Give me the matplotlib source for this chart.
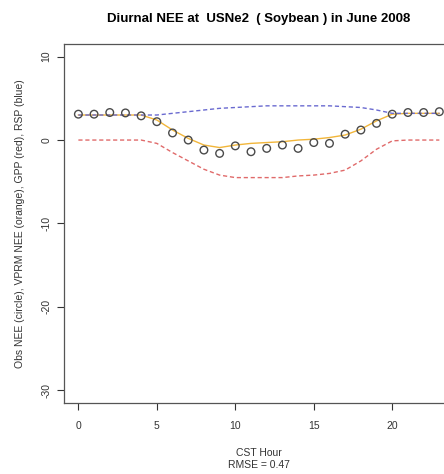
import numpy as np
import matplotlib
matplotlib.use("Agg")
import matplotlib.pyplot as plt

plt.rcParams['font.family'] = ['Liberation Sans', 'DejaVu Sans']
plt.rcParams['axes.unicode_minus'] = False

# hourly values
hours = np.arange(24)
obs_nee = [3.1, 3.1, 3.3, 3.25, 2.9, 2.2, 0.85, 0.0, -1.2, -1.6, -0.7, -1.4,
           -1.0, -0.6, -1.0, -0.3, -0.4, 0.7, 1.2, 2.0, 3.1, 3.3, 3.3, 3.4]
vprm_nee = [3.0, 3.0, 3.0, 3.0, 3.0, 2.4, 1.2, 0.2, -0.6, -0.9, -0.6, -0.4,
            -0.3, -0.2, 0.0, 0.1, 0.3, 0.6, 1.3, 2.3, 3.1, 3.2, 3.2, 3.2]
gpp = [0, 0, 0, 0, 0, -0.4, -1.5, -2.5, -3.5, -4.2, -4.5, -4.5,
       -4.5, -4.5, -4.3, -4.2, -4.0, -3.6, -2.5, -1.1, -0.1, 0, 0, 0]
rsp = [3.0, 3.0, 3.0, 3.0, 3.0, 3.0, 3.2, 3.4, 3.6, 3.8, 3.9, 4.0,
       4.1, 4.1, 4.1, 4.1, 4.1, 4.0, 3.9, 3.6, 3.2, 3.2, 3.2, 3.2]
xticks = [0, 5, 10, 15, 20]
yticks = [-30, -20, -10, 0, 10]
rmse = 0.47

fig = plt.figure(figsize=(4.44, 4.74), dpi=100)
# the plot region runs off the right edge, as in the original
ax = fig.add_axes([0.144, 0.150, 0.878, 0.757])

ax.plot(hours, vprm_nee, color='#f2b63a', lw=1.0)
ax.plot(hours, gpp, color='#e06a6a', lw=1.0, dashes=(3, 2))
ax.plot(hours, rsp, color='#6a6ad0', lw=1.0, dashes=(3, 2))
ax.scatter(hours, obs_nee, s=30, facecolors='none', edgecolors='#4a4a4a', linewidths=1.0, zorder=3)

ax.set_xlim(-0.92, 23.92)
ax.set_ylim(-31.5, 11.5)
ax.set_xticks(xticks)
ax.set_yticks(yticks)
for lab in ax.get_yticklabels():
    lab.set_rotation(90)
    lab.set_va('center')
ax.tick_params(labelsize=7.5, colors='#333333', length=5, width=0.8)
ax.tick_params(axis='x', pad=8)
ax.tick_params(axis='y', pad=4)
for s in ax.spines.values():
    s.set_color('#555555')
    s.set_linewidth(0.9)

ax.set_title("Diurnal NEE at  USNe2  ( Soybean ) in June 2008", fontsize=9.5, fontweight='bold', pad=16)
ax.set_xlabel("CST Hour\nRMSE = %.2f" % rmse, fontsize=7.5, color='#333333', labelpad=12, linespacing=1.3)
ax.set_ylabel("Obs NEE (circle), VPRM NEE (orange), GPP (red), RSP (blue)", fontsize=7.5, color='#333333', labelpad=12)

fig.savefig("out.png", dpi=100)
